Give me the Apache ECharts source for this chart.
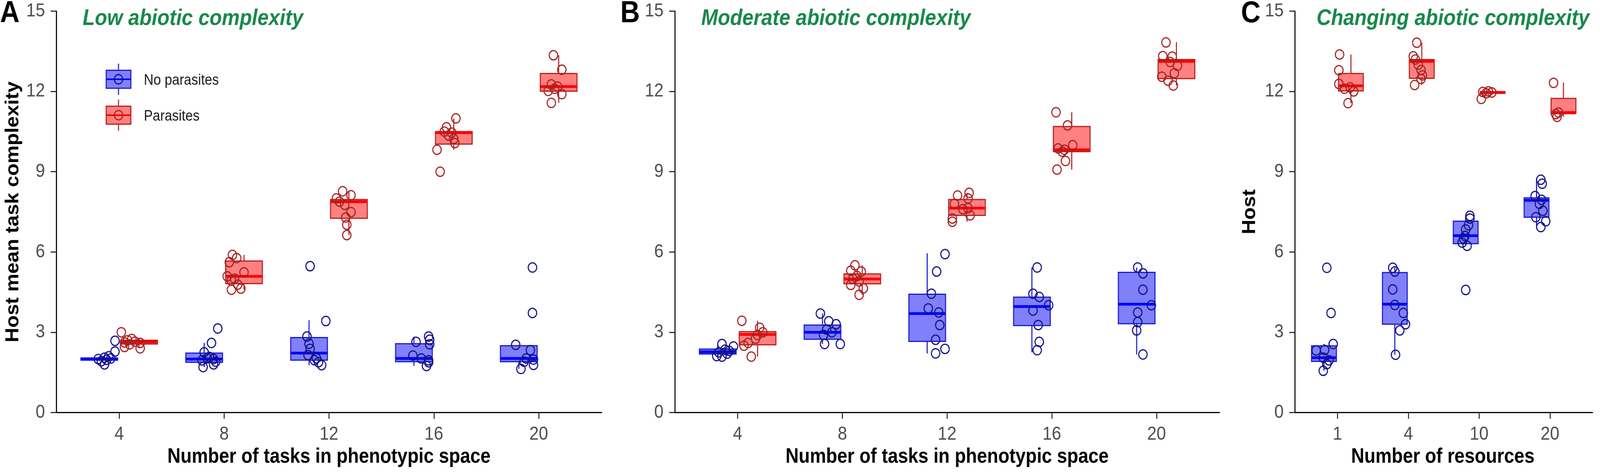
<!DOCTYPE html>
<html>
<head>
<meta charset="utf-8">
<script src="https://cdn.jsdelivr.net/npm/echarts@6/dist/echarts.min.js"></script>
<style>
  html, body { margin: 0; padding: 0; background: #fff; overflow: hidden; }
  #chart { width: 4550px; height: 1219px; transform-origin: 0 0; }
</style>
</head>
<body>
<div id="chart"></div>
<script>
// categories
const taskLabels = ['4', '8', '12', '16', '20'];
const resourceLabels = ['1', '4', '10', '20'];
const yTicks = [0, 3, 6, 9, 12, 15];

// A - low abiotic complexity (one array of replicate values per category)
const lowNoParasites = [
  [2.68, 2.28, 2.10, 2.05, 2.02, 2.00, 1.97, 1.92, 1.80],
  [3.14, 2.60, 2.25, 2.08, 2.03, 2.00, 1.95, 1.90, 1.80, 1.70],
  [5.47, 3.42, 2.84, 2.57, 2.38, 2.15, 2.03, 1.96, 1.88, 1.77],
  [2.84, 2.72, 2.64, 2.55, 2.13, 2.02, 1.95, 1.88, 1.74],
  [5.42, 3.72, 2.53, 2.33, 2.02, 1.98, 1.90, 1.78, 1.63]
];
const lowNoParasitesJitter = [
  [-0.04, -0.04, -0.10, -0.14, -0.08, -0.20, -0.12, -0.17, -0.14],
  [-0.06, -0.12, -0.19, -0.14, -0.16, -0.10, -0.21, -0.08, -0.10, -0.20],
  [-0.18, -0.03, -0.21, -0.19, -0.18, -0.20, -0.12, -0.14, -0.10, -0.07],
  [-0.05, -0.04, -0.17, -0.04, -0.20, -0.12, -0.05, -0.05, -0.07],
  [-0.06, -0.06, -0.22, -0.08, -0.12, -0.05, -0.14, -0.05, -0.17]
];
// [lower whisker, q1, median, q3, upper whisker]
const lowNoParasitesBox = [
  [1.92, 1.96, 2.00, 2.04, 2.10],
  [1.70, 1.88, 2.00, 2.22, 2.60],
  [1.77, 1.96, 2.22, 2.80, 3.45],
  [1.74, 1.90, 2.02, 2.57, 2.84],
  [1.63, 1.90, 2.02, 2.50, 2.53]
];
const lowParasites = [
  [3.00, 2.75, 2.70, 2.65, 2.62, 2.60, 2.55, 2.45, 2.40],
  [5.89, 5.77, 5.62, 5.24, 5.09, 5.00, 4.93, 4.78, 4.63, 4.59],
  [8.27, 8.12, 8.00, 7.88, 7.76, 7.49, 7.29, 7.02, 6.63],
  [10.99, 10.66, 10.50, 10.46, 10.35, 10.23, 10.07, 9.82, 9.00],
  [13.35, 12.81, 12.26, 12.18, 12.10, 12.02, 11.90, 11.57]
];
const lowParasitesJitter = [
  [0.02, 0.12, 0.08, 0.15, 0.05, 0.20, 0.10, 0.05, 0.20],
  [0.08, 0.12, 0.05, 0.19, 0.03, 0.10, 0.07, 0.13, 0.16, 0.07],
  [0.13, 0.21, 0.07, 0.10, 0.15, 0.21, 0.16, 0.17, 0.17],
  [0.21, 0.12, 0.10, 0.17, 0.14, 0.19, 0.20, 0.03, 0.06],
  [0.14, 0.22, 0.12, 0.18, 0.15, 0.09, 0.22, 0.12]
];
const lowParasitesBox = [
  [2.40, 2.56, 2.64, 2.70, 2.75],
  [4.59, 4.82, 5.09, 5.66, 5.89],
  [6.63, 7.26, 7.88, 7.96, 8.27],
  [9.82, 10.03, 10.46, 10.50, 10.99],
  [11.57, 12.01, 12.18, 12.67, 13.35]
];

// B - moderate abiotic complexity
const moderateNoParasites = [
  [2.56, 2.47, 2.35, 2.30, 2.25, 2.20, 2.11, 2.09],
  [3.70, 3.41, 3.30, 3.10, 3.00, 2.90, 2.56, 2.56],
  [5.92, 5.27, 4.44, 3.89, 3.74, 3.27, 2.72, 2.38, 2.21],
  [5.42, 4.44, 4.32, 4.01, 3.81, 3.27, 2.64, 2.33],
  [5.42, 5.20, 4.59, 4.01, 3.74, 3.38, 3.07, 2.17]
];
const moderateNoParasitesJitter = [
  [-0.15, -0.04, -0.12, -0.08, -0.18, -0.10, -0.20, -0.15],
  [-0.21, -0.13, -0.06, -0.15, -0.10, -0.18, -0.17, -0.02],
  [-0.02, -0.10, -0.15, -0.18, -0.08, -0.07, -0.11, -0.02, -0.11],
  [-0.14, -0.18, -0.12, -0.03, -0.18, -0.13, -0.12, -0.14],
  [-0.18, -0.13, -0.13, -0.05, -0.18, -0.18, -0.19, -0.13]
];
const moderateNoParasitesBox = [
  [2.09, 2.19, 2.27, 2.37, 2.56],
  [2.56, 2.74, 3.00, 3.27, 3.70],
  [2.21, 2.66, 3.70, 4.42, 5.95],
  [2.25, 3.25, 3.96, 4.31, 5.42],
  [2.17, 3.32, 4.05, 5.24, 5.42]
];
const moderateParasites = [
  [3.43, 3.17, 3.00, 2.90, 2.76, 2.60, 2.50, 2.09],
  [5.50, 5.30, 5.27, 5.10, 5.00, 4.90, 4.77, 4.64, 4.40],
  [8.21, 8.11, 8.00, 7.80, 7.64, 7.60, 7.37, 7.25, 7.13],
  [11.22, 10.73, 9.99, 9.87, 9.82, 9.75, 9.40, 9.08],
  [13.83, 13.32, 13.30, 13.10, 12.96, 12.68, 12.55, 12.40, 12.22]
];
const moderateParasitesJitter = [
  [0.04, 0.21, 0.24, 0.19, 0.17, 0.10, 0.06, 0.13],
  [0.12, 0.08, 0.18, 0.14, 0.10, 0.16, 0.08, 0.20, 0.16],
  [0.21, 0.10, 0.20, 0.07, 0.20, 0.15, 0.22, 0.05, 0.05],
  [0.04, 0.15, 0.20, 0.06, 0.12, 0.10, 0.13, 0.05],
  [0.09, 0.06, 0.15, 0.13, 0.20, 0.17, 0.05, 0.11, 0.16]
];
const moderateParasitesBox = [
  [2.09, 2.53, 2.92, 3.02, 3.43],
  [4.40, 4.81, 4.99, 5.18, 5.50],
  [7.13, 7.37, 7.64, 7.96, 8.21],
  [9.08, 9.75, 9.82, 10.69, 11.22],
  [12.22, 12.48, 13.12, 13.19, 13.84]
];

// C - changing abiotic complexity
const changingNoParasites = [
  [5.41, 3.72, 2.56, 2.34, 2.32, 2.05, 1.95, 1.81, 1.56],
  [5.41, 5.27, 4.60, 4.02, 3.72, 3.30, 3.07, 2.16],
  [7.35, 7.25, 7.00, 6.84, 6.60, 6.50, 6.35, 6.23, 4.58],
  [8.70, 8.55, 8.09, 7.95, 7.80, 7.54, 7.30, 7.15, 6.93]
];
const changingNoParasitesJitter = [
  [-0.15, -0.09, -0.06, -0.18, -0.30, -0.20, -0.12, -0.15, -0.20],
  [-0.22, -0.19, -0.22, -0.19, -0.07, -0.04, -0.12, -0.18],
  [-0.13, -0.13, -0.15, -0.19, -0.20, -0.22, -0.24, -0.17, -0.19],
  [-0.13, -0.11, -0.21, -0.12, -0.15, -0.10, -0.20, -0.06, -0.13]
];
const changingNoParasitesBox = [
  [1.56, 1.91, 2.05, 2.49, 2.56],
  [2.16, 3.30, 4.05, 5.23, 5.41],
  [6.23, 6.31, 6.61, 7.15, 7.35],
  [6.93, 7.30, 7.93, 8.02, 8.70]
];
const changingParasites = [
  [13.38, 12.79, 12.28, 12.15, 12.10, 12.00, 11.56],
  [13.82, 13.31, 13.19, 13.00, 12.80, 12.60, 12.47, 12.24],
  [12.00, 11.98, 11.96, 11.93, 11.72],
  [12.32, 11.21, 11.15, 11.05]
];
const changingParasitesJitter = [
  [0.03, 0.02, 0.02, 0.18, 0.10, 0.23, 0.15],
  [0.12, 0.07, 0.10, 0.14, 0.18, 0.20, 0.18, 0.09],
  [0.13, 0.05, 0.18, 0.10, 0.03],
  [0.05, 0.12, 0.08, 0.10]
];
const changingParasitesBox = [
  [11.56, 12.02, 12.21, 12.67, 13.38],
  [12.24, 12.49, 13.12, 13.19, 13.82],
  [11.90, 11.93, 11.96, 11.99, 12.01],
  [11.05, 11.17, 11.21, 11.74, 12.33]
];

const W = 4550, H = 1219;
const FONT = '"Liberation Sans", Arial, sans-serif';
const BOX_W = 0.35;      // box width in category units
const DODGE = 0.19;      // box centre offset from category
const BLUE = { fill: '#8080fa', border: '#1a1acc', median: '#0000ff', point: '#12128a' };
const RED = { fill: '#ff8080', border: '#b51f1f', median: '#ff0000', point: '#a82222' };

// fit the fixed-size drawing into whatever viewport we actually get
const dom = document.getElementById('chart');
const sx = window.innerWidth / W, sy = window.innerHeight / H;
if (Math.abs(sx - 1) > 0.002 || Math.abs(sy - 1) > 0.002) {
  dom.style.transform = 'scale(' + sx + ',' + sy + ')';
}

const panels = [
  {
    grid: { left: 160, top: 28.5, width: 1551, height: 1028 },
    cats: taskLabels,
    noPar: [lowNoParasites, lowNoParasitesJitter, lowNoParasitesBox],
    par: [lowParasites, lowParasitesJitter, lowParasitesBox]
  },
  {
    grid: { left: 1919, top: 28.5, width: 1548.6, height: 1028 },
    cats: taskLabels,
    noPar: [moderateNoParasites, moderateNoParasitesJitter, moderateNoParasitesBox],
    par: [moderateParasites, moderateParasitesJitter, moderateParasitesBox]
  },
  {
    grid: { left: 3682.4, top: 28.5, width: 846.3, height: 1028 },
    cats: resourceLabels,
    noPar: [changingNoParasites, changingNoParasitesJitter, changingNoParasitesBox],
    par: [changingParasites, changingParasitesJitter, changingParasitesBox]
  }
];

function makeBoxRenderer(col) {
  return function (params, api) {
    const x = api.value(0);
    const lo = api.coord([x, api.value(1)]);
    const q1 = api.coord([x, api.value(2)]);
    const md = api.coord([x, api.value(3)]);
    const q3 = api.coord([x, api.value(4)]);
    const hi = api.coord([x, api.value(5)]);
    const half = api.size([BOX_W, 0])[0] / 2;
    const cx = lo[0];
    return {
      type: 'group',
      children: [
        { type: 'line', shape: { x1: cx, y1: lo[1], x2: cx, y2: q1[1] }, style: { stroke: col.border, lineWidth: 3 } },
        { type: 'line', shape: { x1: cx, y1: q3[1], x2: cx, y2: hi[1] }, style: { stroke: col.border, lineWidth: 3 } },
        { type: 'rect', shape: { x: cx - half, y: q3[1], width: half * 2, height: Math.max(q1[1] - q3[1], 1) },
          style: { fill: col.fill, stroke: col.border, lineWidth: 3 } },
        { type: 'line', shape: { x1: cx - half, y1: md[1], x2: cx + half, y2: md[1] }, style: { stroke: col.median, lineWidth: 7 } }
      ]
    };
  };
}

const xAxes = [], yAxes = [], grids = [], series = [];
panels.forEach(function (p, gi) {
  const n = p.cats.length;
  const ticks = p.cats.map(function (c, i) { return i + 1; });
  grids.push(p.grid);
  xAxes.push({
    gridIndex: gi, type: 'value', min: 0.4, max: n + 0.6,
    axisLine: { show: true, onZero: false, lineStyle: { color: '#000', width: 3 } },
    axisTick: { show: true, length: 16, lineStyle: { color: '#333', width: 3 }, customValues: ticks },
    axisLabel: { customValues: ticks, formatter: function (v) { return p.cats[Math.round(v) - 1]; },
      color: '#4d4d4d', fontSize: 48, fontFamily: FONT, margin: 32 },
    splitLine: { show: false }
  });
  yAxes.push({
    gridIndex: gi, type: 'value', min: 0, max: 15, interval: 3,
    axisLine: { show: true, lineStyle: { color: '#000', width: 3 } },
    axisTick: { show: true, length: 16, lineStyle: { color: '#333', width: 3 } },
    axisLabel: { color: '#4d4d4d', fontSize: 48, fontFamily: FONT, margin: 32,
      formatter: function (v) { return yTicks.indexOf(v) >= 0 ? String(v) : ''; } },
    splitLine: { show: false }
  });
  [[p.noPar, BLUE, -DODGE], [p.par, RED, DODGE]].forEach(function (g) {
    const boxes = g[0][2];
    series.push({
      type: 'custom', xAxisIndex: gi, yAxisIndex: gi, z: 2, silent: true,
      renderItem: makeBoxRenderer(g[1]),
      encode: { x: 0, y: [1, 2, 3, 4, 5] },
      data: boxes.map(function (b, i) { return [i + 1 + g[2]].concat(b); })
    });
  });
  [[p.noPar, BLUE], [p.par, RED]].forEach(function (g) {
    const vals = g[0][0], jit = g[0][1];
    const pts = [];
    vals.forEach(function (arr, i) {
      arr.forEach(function (v, k) { pts.push([i + 1 + jit[i][k], v]); });
    });
    series.push({
      type: 'scatter', xAxisIndex: gi, yAxisIndex: gi, z: 3, silent: true,
      symbol: 'circle', symbolSize: 24,
      itemStyle: { color: 'rgba(0,0,0,0)', borderColor: g[1].point, borderWidth: 3, opacity: 1 },
      data: pts
    });
  });
});

function txt(x, y, text, font, fill, extra) {
  return Object.assign({
    type: 'text', x: x, y: y, silent: true,
    style: { text: text, font: font, fill: fill, align: 'left', verticalAlign: 'middle' }
  }, extra || {});
}

function legendKey(y, col, label) {
  return {
    type: 'group', x: 302, y: y, silent: true,
    children: [
      { type: 'line', shape: { x1: 35, y1: -40, x2: 35, y2: 40 }, style: { stroke: col.border, lineWidth: 3 } },
      { type: 'rect', shape: { x: 0, y: -23, width: 70, height: 46 }, style: { fill: col.fill, stroke: col.border, lineWidth: 3 } },
      { type: 'line', shape: { x1: 0, y1: 0, x2: 70, y2: 0 }, style: { stroke: col.median, lineWidth: 4 } },
      { type: 'circle', shape: { cx: 35, cy: 0, r: 12 }, style: { fill: 'none', stroke: col.point, lineWidth: 3 } },
      { type: 'text', x: 107, y: 4, style: { text: label, font: '38px ' + FONT, fill: '#1a1a1a', verticalAlign: 'middle' } }
    ]
  };
}

const titleFont = 'italic bold 57px ' + FONT;
const green = '#18884a';
const letterFont = 'bold 77px ' + FONT;
const axisTitleFont = 'bold 54px ' + FONT;
const narrow = { scaleX: 0.96 };

const graphics = [
  txt(0, 36, 'A', letterFont, '#000'),
  txt(1764, 36, 'B', letterFont, '#000'),
  txt(3529, 36, 'C', letterFont, '#000'),
  txt(235, 48, 'Low abiotic complexity', titleFont, green),
  txt(1994, 48, 'Moderate abiotic complexity', titleFont, green),
  txt(3744, 48, 'Changing abiotic complexity', titleFont, green),
  txt(935.5, 1170, 'Number of tasks in phenotypic space', axisTitleFont, '#000', narrow),
  txt(2693.3, 1170, 'Number of tasks in phenotypic space', axisTitleFont, '#000', narrow),
  txt(4103, 1170, 'Number of resources', axisTitleFont, '#000', narrow),
  txt(37, 542.5, 'Host mean task complexity', axisTitleFont, '#000', { rotation: Math.PI / 2, scaleX: 0.96 }),
  txt(3554, 542.5, 'Host', axisTitleFont, '#000', { rotation: Math.PI / 2, scaleX: 0.96 }),
  legendKey(203, BLUE, 'No parasites'),
  legendKey(295, RED, 'Parasites')
];
// centre the axis titles
[6, 7, 8, 9, 10].forEach(function (i) { graphics[i].style.align = 'center'; });

const chart = echarts.init(dom, null, { renderer: 'canvas', width: W, height: H });
chart.setOption({
  animation: false,
  backgroundColor: '#ffffff',
  grid: grids,
  xAxis: xAxes,
  yAxis: yAxes,
  series: series,
  graphic: graphics
});
</script>
</body>
</html>
